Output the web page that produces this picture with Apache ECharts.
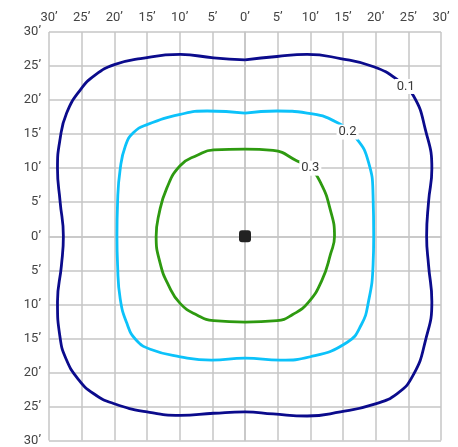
<!DOCTYPE html>
<html>
<head>
<meta charset="utf-8">
<script src="https://cdn.jsdelivr.net/npm/echarts@6/dist/echarts.min.js"></script>
<style>
html,body{margin:0;padding:0;background:#fff;}
#chart{width:458px;height:447px;}
</style>
</head>
<body>
<div id="chart"></div>
<script>
// Axis ticks (degrees)
const axisMin = -30, axisMax = 30, axisStep = 5;

// Contour levels and their closed outlines [x, y] in degrees
const levels = ['0.1', '0.2', '0.3'];
const contour01 = [[0,25.9],[4.9,26.4],[9.5,26.7],[14.6,26.1],[19.7,24.9],[23.3,23.0],[25.8,20.6],[27.6,15.7],[28.6,9.9],[28.1,5.1],[27.8,0],[28.1,-4.3],[28.6,-9.6],[27.6,-15.4],[25.8,-20.3],[23.3,-23.1],[19.7,-24.7],[14.6,-25.8],[9.5,-26.4],[4.3,-26.1],[0,-25.8],[-4.8,-26.0],[-9.9,-26.3],[-15,-25.8],[-20,-24.6],[-23.2,-23.1],[-25.6,-20.9],[-27.4,-18.0],[-28.3,-14.9],[-28.7,-9.6],[-28.1,-4.3],[-27.8,0],[-28.3,5.1],[-28.7,9.9],[-28.3,14.3],[-27.3,18.1],[-25.2,21.5],[-22.9,23.7],[-20,25.2],[-16,26.1],[-9.9,26.7],[-4.8,26.2],[0,25.9]];
const contour02 = [[0,18.1],[4.9,18.4],[9.5,18.1],[14.1,16.7],[17.1,14.3],[18.9,10.9],[19.6,6.0],[19.7,0],[19.6,-4.3],[18.9,-9.6],[17.8,-13.0],[15.6,-15.6],[10,-17.7],[5.4,-18.2],[0,-17.9],[-5.1,-18.2],[-9.9,-17.7],[-14.5,-16.6],[-16.7,-15.2],[-18,-13],[-19.1,-9.2],[-19.5,-4.3],[-19.6,0],[-19.5,5.1],[-19.1,9.9],[-18.3,13.3],[-17.1,15.2],[-15,16.4],[-9.9,17.9],[-5.8,18.4],[0,18.1]];
const contour03 = [[0,12.8],[4.3,12.6],[7.9,11.1],[10,9.9],[11.6,7.8],[13,4.1],[13.7,0],[13.1,-2.6],[11.8,-6.4],[9.7,-9.7],[7.3,-11.5],[4.9,-12.4],[0,-12.6],[-4.8,-12.4],[-7.3,-11.6],[-9.9,-9.9],[-11.7,-7.2],[-13,-3.9],[-13.6,0],[-13.2,3.1],[-12,7],[-9.9,10.4],[-7.3,11.9],[-4.8,12.7],[0,12.8]];
// Where each level label sits on its contour
const labelPositions = [[24.6,22.0],[15.7,15.3],[10,10]];
// Light source centre
const centre = [[0,0]];

const contours = [contour01, contour02, contour03];
const colors = ['#0b0b8c', '#0cc2fa', '#2e9a10'];
const tickFmt = v => Math.abs(v) + '\u2019';

const chart = echarts.init(document.getElementById('chart'), null, {renderer: 'canvas'});
const series = contours.map((c, i) => ({
  type: 'line', data: c, smooth: 0.5, showSymbol: false, symbol: 'none',
  lineStyle: {color: colors[i], width: 2.8}, silent: true, z: 3
}));
series.push({
  type: 'scatter', symbol: 'rect', symbolSize: [22, 15], zlevel: 1, z: 5, silent: true,
  itemStyle: {color: '#fff', opacity: 1},
  data: labelPositions.map((p, i) => ({value: p, name: levels[i]})),
  label: {show: true, position: 'inside', formatter: p => p.name,
    color: '#3a3a3a', fontSize: 13, fontFamily: 'Roboto, sans-serif'}
});
series.push({
  type: 'scatter', data: centre, symbol: 'roundRect', symbolSize: 12,
  itemStyle: {color: '#222', opacity: 1}, zlevel: 1, z: 6, silent: true
});

const axisCommon = {
  type: 'value', min: axisMin, max: axisMax, interval: axisStep,
  axisLine: {show: true, lineStyle: {color: '#c6c6c6', width: 1.5}},
  axisTick: {show: false},
  splitLine: {show: true, lineStyle: {color: '#c6c6c6', width: 1.5}},
  axisLabel: {formatter: tickFmt, color: '#444', fontSize: 13, fontFamily: 'Roboto, sans-serif', margin: 8}
};

chart.setOption({
  animation: false,
  grid: {left: 49, right: 17, top: 32, bottom: 2, containLabel: false},
  xAxis: Object.assign({}, axisCommon, {position: 'top'}),
  yAxis: Object.assign({}, axisCommon, {position: 'left'}),
  series: series
});
</script>
</body>
</html>
